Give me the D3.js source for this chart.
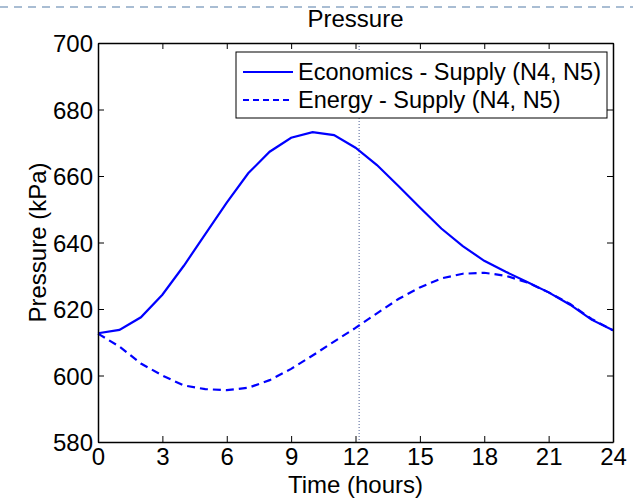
<!DOCTYPE html>
<html>
<head>
<meta charset="utf-8">
<script src="https://cdn.jsdelivr.net/npm/d3@7"></script>
<style>
  body { margin: 0; background: #fff; }
  text { font-family: "Liberation Sans", Arial, sans-serif; fill: #000; }
</style>
</head>
<body>
<div id="chart"></div>
<script>
// hourly values
var hours = d3.range(0, 25);
var economics = [612.7, 613.7, 617.5, 624.3, 633, 642.5, 652, 660.8, 667.3, 671.5, 673.2, 672.3, 668.5,
                 663.3, 657, 650.5, 644.2, 638.9, 634.5, 631.2, 628.1, 625, 621.3, 616.8, 613.6];
var energy = [612.6, 608.7, 603.6, 600, 597, 595.9, 595.6, 596.3, 598.6, 602, 606, 610.2, 614.3,
              618.7, 623, 626.5, 629.2, 630.6, 630.9, 630, 628, 625, 621.5, 617, 613.6];
var seriesNames = ["Economics - Supply (N4, N5)", "Energy - Supply (N4, N5)"];
var xTicks = [0, 3, 6, 9, 12, 15, 18, 21, 24];
var yTicks = [580, 600, 620, 640, 660, 680, 700];
var markerHour = 12.17;

function main() {
  var W = 633, H = 500;
  var margin = {top: 43, right: 20, bottom: 58, left: 98};
  var width = W - margin.left - margin.right,
      height = H - margin.top - margin.bottom;

  var svg = d3.select("#chart").append("svg")
    .attr("width", W).attr("height", H);

  // slide artefact: dashed rule across the top
  svg.append("line")
    .attr("x1", 0).attr("x2", W).attr("y1", 7).attr("y2", 7)
    .attr("stroke", "#a9bdd3").attr("stroke-width", 2)
    .attr("stroke-dasharray", "8,6");

  var g = svg.append("g")
    .attr("transform", "translate(" + margin.left + "," + margin.top + ")");

  var x = d3.scaleLinear().domain([0, 24]).range([0, width]);
  var y = d3.scaleLinear().domain([580, 700]).range([height, 0]);

  // dotted marker line
  g.append("line")
    .attr("x1", x(markerHour)).attr("x2", x(markerHour))
    .attr("y1", 0).attr("y2", height)
    .attr("stroke", "#6a7aa8").attr("stroke-width", 1.2)
    .attr("stroke-dasharray", "1,2");

  var line = d3.line()
    .x(function(d, i) { return x(hours[i]); })
    .y(function(d) { return y(d); });

  g.append("path").datum(energy)
    .attr("d", line).attr("fill", "none")
    .attr("stroke", "#0000ff").attr("stroke-width", 2.2)
    .attr("stroke-dasharray", "8,5");

  g.append("path").datum(economics)
    .attr("d", line).attr("fill", "none")
    .attr("stroke", "#0000ff").attr("stroke-width", 2.2);

  // axes, ticks pointing inward on all four sides
  var fs = "24px";
  var bottom = g.append("g").attr("transform", "translate(0," + height + ")")
    .call(d3.axisBottom(x).tickValues(xTicks).tickSizeInner(-6).tickSizeOuter(0).tickPadding(6));
  var left = g.append("g")
    .call(d3.axisLeft(y).tickValues(yTicks).tickSizeInner(-6).tickSizeOuter(0).tickPadding(5));
  var top = g.append("g")
    .call(d3.axisTop(x).tickValues(xTicks).tickSizeInner(-6).tickSizeOuter(0).tickFormat(""));
  var right = g.append("g").attr("transform", "translate(" + width + ",0)")
    .call(d3.axisRight(y).tickValues(yTicks).tickSizeInner(-6).tickSizeOuter(0).tickFormat(""));

  [bottom, left, top, right].forEach(function(a) {
    a.selectAll("path").attr("stroke", "#000").attr("stroke-width", 1.5);
    a.selectAll("line").attr("stroke", "#000");
    a.selectAll("text").attr("font-size", fs).attr("fill", "#000")
      .style("font-family", "Liberation Sans, Arial, sans-serif");
  });
  bottom.selectAll("text").attr("dy", "0.72em");
  left.selectAll("text").attr("dy", "0.36em");

  // titles
  svg.append("text")
    .attr("x", margin.left + width / 2).attr("y", 27)
    .attr("text-anchor", "middle").attr("font-size", fs)
    .text("Pressure");
  svg.append("text")
    .attr("x", margin.left + width / 2).attr("y", 493)
    .attr("text-anchor", "middle").attr("font-size", fs)
    .text("Time (hours)");
  svg.append("text")
    .attr("transform", "translate(46," + (margin.top + height / 2) + ") rotate(-90)")
    .attr("text-anchor", "middle").attr("font-size", fs)
    .text("Pressure (kPa)");

  // legend
  var lg = svg.append("g").attr("transform", "translate(236,52)");
  lg.append("rect")
    .attr("width", 371).attr("height", 66)
    .attr("fill", "#fff").attr("stroke", "#000").attr("stroke-width", 1);
  seriesNames.forEach(function(name, i) {
    var cy = 20 + i * 28;
    lg.append("line")
      .attr("x1", 7).attr("x2", 57).attr("y1", cy).attr("y2", cy)
      .attr("stroke", "#0000ff").attr("stroke-width", 2)
      .attr("stroke-dasharray", i === 1 ? "6,4" : null);
    lg.append("text")
      .attr("x", 62).attr("y", cy + 8)
      .attr("font-size", "23.5px")
      .text(name);
  });
}
main();
</script>
</body>
</html>
